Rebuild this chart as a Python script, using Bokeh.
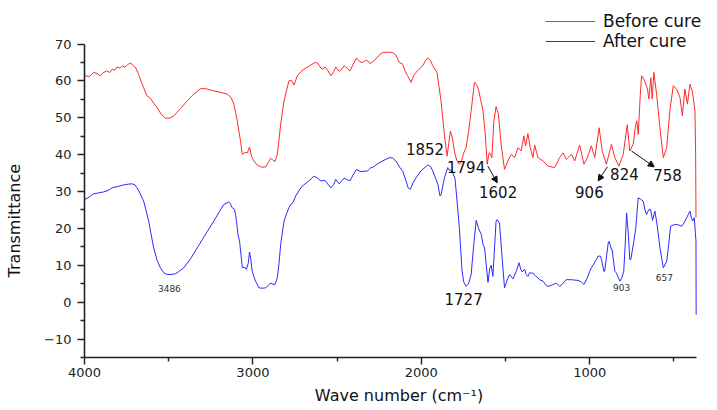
from bokeh.plotting import figure
from bokeh.models import (Range1d, FixedTicker, Legend, LegendItem, Arrow, NormalHead,
                          ColumnDataSource)
from bokeh.core.properties import value
from bokeh.embed import file_html
from bokeh.resources import INLINE

# ---------------- data ----------------
before_wn = [4000, 3995, 3970, 3946, 3925, 3907, 3890, 3867, 3850, 3835, 3820, 3807, 3790, 3775, 3760,
             3745, 3738, 3725, 3708, 3695, 3679, 3665, 3649, 3630, 3609, 3590, 3569, 3545, 3520, 3495,
             3470, 3430, 3390, 3350, 3311, 3280, 3232, 3190, 3152, 3130, 3113, 3093, 3083, 3073, 3063,
             3048, 3033, 3020, 3008, 2994, 2975, 2954, 2940, 2924, 2910, 2895, 2882, 2869, 2855, 2845,
             2835, 2815, 2800, 2786, 2770, 2756, 2736, 2715, 2696, 2660, 2631, 2615, 2597, 2585, 2571,
             2555, 2537, 2520, 2508, 2488, 2470, 2458, 2440, 2424, 2405, 2385, 2365, 2349, 2330, 2319,
             2305, 2290, 2280, 2255, 2230, 2190, 2170, 2150, 2131, 2111, 2095, 2081, 2061, 2045, 2032,
             2010, 1992, 1975, 1962, 1945, 1932, 1907, 1895, 1883, 1863, 1847, 1837, 1827, 1815, 1804,
             1790, 1774, 1760, 1748, 1734, 1720, 1704, 1690, 1684, 1672, 1661, 1648, 1634, 1620, 1609,
             1600, 1595, 1581, 1569, 1556, 1542, 1526, 1506, 1486, 1466, 1446, 1426, 1407, 1391, 1381,
             1367, 1353, 1337, 1327, 1307, 1277, 1248, 1208, 1179, 1158, 1139, 1109, 1089, 1060, 1034,
             1014, 990, 970, 944, 926, 901, 871, 851, 827, 801, 777, 762, 742, 728, 720,
             712, 700, 692, 676, 657, 649, 637, 629, 619, 603, 583, 563, 543, 524, 504,
             484, 464, 450, 435, 420, 405, 391, 375, 371, 369]
before_t = [61.5, 61.4, 61.2, 62.3, 62.0, 61.4, 62.2, 62.7, 62.3, 63.2, 62.9, 63.8, 63.4, 64.1, 63.7,
            64.4, 64.6, 64.8, 64.1, 63.5, 61.8, 60.0, 58.2, 56.0, 55.3, 54.0, 52.8, 51.0, 49.9, 49.9,
            50.5, 52.5, 54.6, 56.5, 57.9, 57.9, 57.3, 56.9, 56.4, 55.5, 53.7, 49.2, 46.4, 43.5, 40.1,
            40.6, 40.5, 42.1, 39.5, 38.3, 37.2, 36.7, 36.6, 36.7, 37.8, 39.0, 38.6, 38.1, 40.1, 44.0,
            48.3, 54.6, 57.5, 60.0, 60.2, 58.9, 61.4, 62.5, 63.2, 64.2, 65.0, 64.8, 63.5, 63.2, 63.8,
            62.8, 61.4, 62.5, 63.8, 62.6, 63.3, 64.1, 63.5, 62.7, 64.5, 66.2, 65.2, 65.0, 65.6, 65.5,
            64.7, 65.2, 65.5, 66.8, 67.7, 67.8, 67.7, 67.0, 65.0, 64.6, 62.5, 61.4, 59.6, 61.5, 62.3,
            63.3, 64.1, 65.5, 66.2, 65.5, 64.1, 62.3, 58.5, 54.6, 45.5, 39.6, 43.0, 46.4, 44.5, 41.0,
            38.5, 37.4, 38.5, 40.5, 41.9, 46.0, 51.9, 57.5, 59.6, 59.0, 57.8, 55.0, 51.9, 45.5, 37.4,
            40.0, 40.5, 39.2, 49.2, 53.0, 51.0, 42.8, 36.0, 38.3, 40.1, 39.2, 41.9, 41.0, 45.1, 42.4,
            45.7, 41.9, 39.2, 42.6, 39.2, 38.3, 36.9, 36.5, 39.2, 40.5, 38.7, 40.1, 38.3, 42.6, 37.4,
            39.2, 42.4, 39.2, 47.3, 41.0, 37.4, 42.8, 39.2, 36.9, 40.1, 48.1, 41.0, 42.8, 47.8, 49.2,
            45.5, 56.0, 61.4, 60.2, 57.8, 55.1, 60.9, 55.1, 62.3, 56.4, 47.3, 39.2, 41.9, 51.9, 58.7,
            57.8, 55.5, 50.5, 57.8, 53.7, 59.1, 57.3, 51.9, 40.0, 23.0]

after_wn = [4000, 3995, 3970, 3946, 3920, 3887, 3860, 3837, 3800, 3768, 3740, 3718, 3700, 3688, 3670,
            3649, 3635, 3619, 3605, 3589, 3570, 3549, 3530, 3510, 3485, 3460, 3440, 3411, 3370, 3331,
            3280, 3232, 3200, 3173, 3143, 3135, 3123, 3110, 3103, 3095, 3089, 3079, 3070, 3063, 3050,
            3039, 3028, 3020, 3012, 3004, 2995, 2984, 2964, 2945, 2924, 2910, 2895, 2882, 2869, 2855,
            2845, 2835, 2815, 2800, 2786, 2770, 2762, 2746, 2726, 2706, 2670, 2637, 2615, 2597, 2571,
            2555, 2537, 2520, 2508, 2488, 2470, 2458, 2440, 2424, 2405, 2385, 2360, 2319, 2299, 2290,
            2260, 2230, 2190, 2170, 2151, 2127, 2110, 2091, 2078, 2065, 2050, 2032, 2002, 1962, 1945,
            1932, 1902, 1889, 1883, 1863, 1843, 1839, 1817, 1800, 1793, 1774, 1758, 1748, 1734, 1720,
            1704, 1690, 1674, 1660, 1644, 1634, 1624, 1612, 1604, 1594, 1585, 1575, 1565, 1556, 1550,
            1536, 1520, 1506, 1490, 1476, 1456, 1435, 1420, 1410, 1401, 1387, 1377, 1367, 1357, 1347,
            1337, 1320, 1307, 1298, 1277, 1258, 1248, 1230, 1218, 1198, 1179, 1160, 1149, 1139, 1109,
            1069, 1050, 1034, 1015, 1000, 990, 960, 950, 936, 930, 916, 911, 890, 885, 871,
            867, 851, 841, 821, 810, 798, 790, 781, 770, 762, 756, 738, 726, 718, 712,
            700, 682, 672, 663, 650, 639, 627, 613, 600, 583, 563, 543, 530, 520, 500,
            484, 465, 454, 440, 424, 405, 397, 389, 379, 373, 369, 368]
after_t = [28.0, 27.9, 28.6, 29.4, 29.6, 29.9, 30.3, 31.0, 31.4, 31.8, 32.0, 32.1, 31.8, 31.0, 29.5,
           27.4, 25.0, 22.0, 18.5, 14.7, 11.5, 9.3, 8.0, 7.5, 7.5, 7.7, 8.3, 9.3, 11.8, 14.7,
           18.5, 22.0, 24.5, 26.5, 27.2, 26.8, 25.6, 25.2, 23.8, 21.0, 18.4, 16.5, 12.5, 9.3, 9.5,
           8.9, 10.5, 13.6, 11.5, 8.4, 7.0, 5.7, 3.9, 3.8, 3.9, 4.5, 5.2, 4.9, 4.8, 6.6,
           10.5, 15.7, 22.0, 24.0, 25.6, 26.8, 27.0, 28.8, 30.3, 31.5, 32.8, 34.2, 33.6, 32.9, 33.0,
           32.0, 31.0, 32.0, 33.3, 32.1, 33.0, 33.7, 33.2, 32.9, 34.5, 36.0, 35.4, 35.6, 36.5, 36.5,
           37.5, 38.3, 39.2, 39.1, 38.3, 36.5, 35.5, 32.9, 31.0, 30.6, 32.3, 33.7, 35.6, 37.2, 36.8,
           35.6, 32.0, 28.8, 29.1, 33.7, 36.5, 36.0, 35.6, 33.5, 30.1, 20.2, 8.4, 5.5, 4.3, 5.0,
           7.5, 15.0, 22.2, 20.0, 18.4, 15.7, 14.7, 9.0, 5.4, 9.0, 10.0, 7.0, 15.0, 22.0, 22.4,
           21.5, 12.0, 3.9, 6.0, 7.5, 6.3, 8.5, 10.7, 9.0, 8.2, 8.9, 7.5, 7.0, 8.0, 7.9,
           7.9, 7.0, 6.6, 6.1, 5.7, 4.5, 4.3, 4.5, 4.8, 5.2, 4.3, 5.0, 5.7, 6.1, 6.1,
           5.9, 5.5, 4.8, 6.5, 8.4, 9.3, 11.6, 12.5, 12.5, 11.6, 8.4, 8.4, 16.1, 16.5, 14.3,
           14.3, 8.4, 7.9, 5.7, 6.5, 8.4, 15.0, 24.2, 18.0, 11.6, 11.6, 16.5, 20.2, 25.0, 28.3,
           28.0, 27.4, 25.0, 23.8, 25.0, 25.2, 22.2, 24.7, 21.0, 14.7, 9.3, 11.1, 16.0, 20.6, 21.0,
           21.1, 20.8, 20.6, 21.5, 22.9, 24.7, 23.0, 22.0, 22.9, 19.0, 16.5, -3.4]

# peak annotations
big_labels = ["1852", "1794", "1602", "906", "824", "758", "1727"]
big_x = [1978, 1734, 1544, 1002, 794, 538, 1749]
big_y = [41.5, 36.7, 29.9, 29.9, 34.7, 34.4, 0.9]
small_labels = ["3486", "903", "657"]
small_x = [3496, 811, 557]
small_y = [3.6, 4.0, 6.8]
arrow_x0 = [1605, 895, 752]
arrow_y0 = [36.9, 36.7, 41.0]
arrow_x1 = [1549, 950, 617]
arrow_y1 = [32.4, 32.9, 36.7]

y_major = [-10, 0, 10, 20, 30, 40, 50, 60, 70]
y_minor = [-15, -5, 5, 15, 25, 35, 45, 55, 65]
x_major = [1000, 2000, 3000, 4000]
x_minor = [500, 1500, 2500, 3500]
x_bounds = (366, 4000)
y_bounds = (-15, 70)

FONT = "DejaVu Sans"

p = figure(frame_width=629, frame_height=355, min_border_left=84, min_border_right=4,
           min_border_top=2, min_border_bottom=53,
           x_range=Range1d(4000, 265), y_range=Range1d(-15, 81.27),
           output_backend="svg", toolbar_location=None)
p.outline_line_color = None
p.xgrid.visible = False
p.ygrid.visible = False
p.background_fill_color = "white"
p.border_fill_color = "white"

r_before = p.line(before_wn, before_t, line_color="#ff2a2a", line_width=1)
r_after = p.line(after_wn, after_t, line_color="#2a2aff", line_width=1)

for ax, maj, mnr, bnd in ((p.xaxis[0], x_major, x_minor, x_bounds),
                          (p.yaxis[0], y_major, y_minor, y_bounds)):
    ax.ticker = FixedTicker(ticks=maj, minor_ticks=mnr)
    ax.bounds = bnd
    ax.axis_line_width = 1.6
    ax.axis_line_color = "#222222"
    ax.major_tick_line_color = "#222222"
    ax.minor_tick_line_color = "#222222"
    ax.major_tick_line_width = 1.4
    ax.minor_tick_line_width = 1.4
    ax.major_tick_in = 0
    ax.minor_tick_in = 0
    ax.major_tick_out = 7
    ax.minor_tick_out = 4
    ax.major_label_text_font = FONT
    ax.major_label_text_font_size = "13px"
    ax.major_label_text_color = "#222222"
    ax.axis_label_text_font = FONT
    ax.axis_label_text_font_style = "normal"
    ax.axis_label_text_color = "#111111"

p.xaxis.major_label_standoff = 3
p.yaxis.major_label_standoff = 6
p.xaxis.axis_label = "Wave number (cm\u207b\u00b9)"
p.xaxis.axis_label_text_font_size = "16px"
p.xaxis.axis_label_standoff = 6
# trailing no-break spaces shift the centred label down to the reference position
p.yaxis.axis_label = "Transmittance" + "\u00a0" * 16
p.yaxis.axis_label_text_font_size = "16px"
p.yaxis.axis_label_standoff = 17

# annotations
p.text(x=big_x, y=big_y, text=big_labels, text_align="center", text_baseline="middle",
       text_font=value(FONT), text_font_size=value("15px"), text_color="#111111")
p.text(x=small_x, y=small_y, text=small_labels, text_align="center", text_baseline="middle",
       text_font=value(FONT), text_font_size=value("9px"), text_color="#333333")
asrc = ColumnDataSource(dict(x0=arrow_x0, y0=arrow_y0, x1=arrow_x1, y1=arrow_y1))
p.add_layout(Arrow(x_start="x0", y_start="y0", x_end="x1", y_end="y1", source=asrc,
                   line_color="#111111", line_width=1,
                   end=NormalHead(size=6, fill_color="#111111", line_color="#111111")))

legend = Legend(items=[LegendItem(label="Before cure", renderers=[r_before]),
                       LegendItem(label="After cure", renderers=[r_after])],
                location=(461, 306), orientation="vertical", glyph_width=50, glyph_height=20,
                label_height=20, spacing=0, padding=0, margin=0, label_standoff=8,
                border_line_alpha=0, background_fill_alpha=0,
                label_text_font=FONT, label_text_font_size="17px", label_text_color="#111111")
p.add_layout(legend)

open("out.html", "w").write(file_html(p, INLINE))
